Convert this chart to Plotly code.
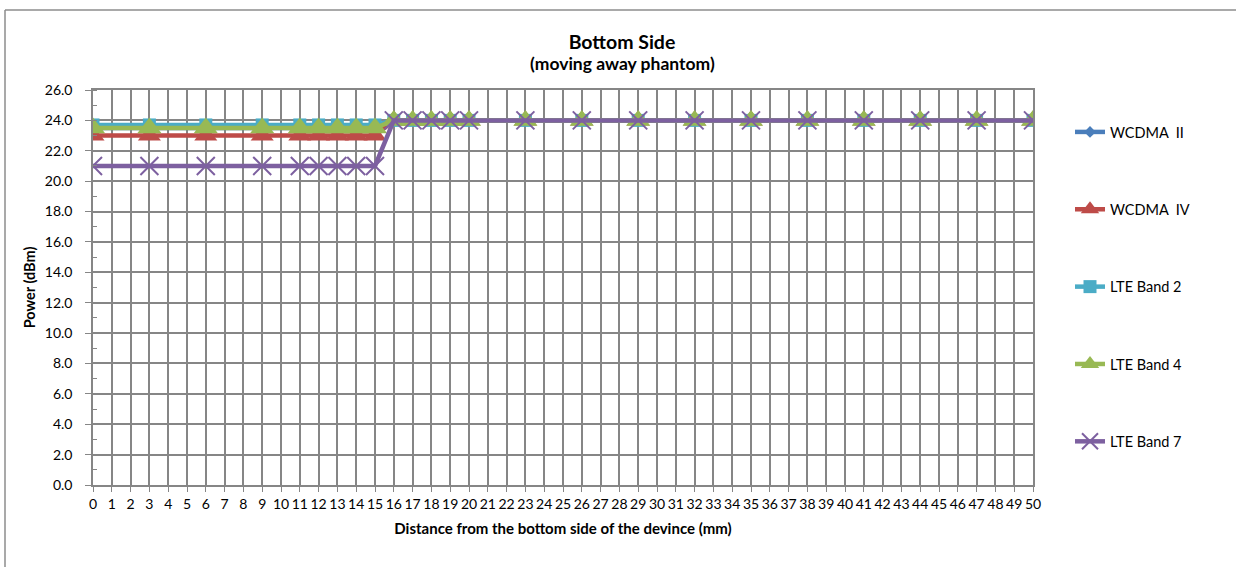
import plotly.graph_objects as go

distance = [0, 3, 6, 9, 11, 12, 13, 14, 15, 16, 17, 18, 19, 20, 23, 26, 29, 32, 35, 38, 41, 44, 47, 50]
wcdma_ii = [23.5] * 9 + [24.0] * 15
wcdma_iv = [23.0] * 9 + [24.0] * 15
lte_b2 = [23.7] * 9 + [24.0] * 15
lte_b4 = [23.5] * 9 + [24.0] * 15
lte_b7 = [21.0] * 9 + [24.0] * 15

series = [
    ("WCDMA  II", wcdma_ii, "#4A7EBB", "diamond", 9),
    ("WCDMA  IV", wcdma_iv, "#BE4B48", "triangle-up", 20),
    ("LTE Band 2", lte_b2, "#4BACC6", "square", 13),
    ("LTE Band 4", lte_b4, "#98B954", "triangle-up", 21),
    ("LTE Band 7", lte_b7, "#7D60A0", "x-thin", 18),
]

fig = go.Figure()
for i, (name, vals, color, sym, size) in enumerate(series):
    marker = dict(symbol=sym, size=size, color=color)
    if sym == "x-thin":
        marker["line"] = dict(color=color, width=2)
    fig.add_trace(go.Scatter(
        x=distance, y=vals, name=name, mode="lines+markers",
        line=dict(color=color, width=4.5), marker=marker,
        legendgroup=f"g{i}",
    ))

grid = "#868686"
L, T, W, H = 93, 90, 940, 395


def px(x):
    return (x - L) / W


def py(y):
    return (T + H - y) / H


fig.update_layout(
    width=1236, height=567,
    margin=dict(l=93, r=203, t=90, b=82),
    paper_bgcolor="white", plot_bgcolor="white",
    font=dict(family="Lato, Liberation Sans, sans-serif", size=14, color="black"),
    title=dict(
        text="<b>Bottom Side</b>",
        x=px(622), xref="paper", xanchor="center",
        y=1 - 42 / 567, yref="container", yanchor="middle",
        font=dict(family="Lato, Liberation Sans, sans-serif", size=19.5, color="black"),
    ),
    annotations=[dict(
        text="<b>(moving away phantom)</b>", x=px(622), y=py(63),
        xref="paper", yref="paper", xanchor="center", yanchor="middle",
        showarrow=False, font=dict(size=17.5, color="black"),
    )],
    xaxis=dict(
        range=[0, 50], dtick=1, tick0=0, showgrid=True, gridcolor=grid, gridwidth=1.5,
        showline=True, linecolor=grid, linewidth=1.5, mirror=True,
        ticks="outside", ticklen=5, tickcolor=grid, zeroline=False,
        tickfont=dict(size=14),
        title=dict(text="<b>Distance from the bottom side of the devince (mm)</b>",
                   font=dict(size=15), standoff=13),
    ),
    yaxis=dict(
        range=[0, 26], dtick=2, tick0=0, tickformat=".1f", showgrid=True,
        gridcolor=grid, gridwidth=1.5,
        showline=True, linecolor=grid, linewidth=1.5, mirror=True,
        ticks="outside", ticklen=6, tickcolor=grid, zeroline=False,
        ticklabelstandoff=10,
        minor=dict(dtick=1, ticks="inside", ticklen=4, tickcolor=grid, showgrid=False),
        tickfont=dict(size=14),
        title=dict(text="<b>Power (dBm)</b>", font=dict(size=14.5), standoff=6),
    ),
    legend=dict(
        x=px(1070), xanchor="left", y=py(116), yanchor="top",
        tracegroupgap=55.5, font=dict(size=14.5), bgcolor="rgba(0,0,0,0)",
    ),
    showlegend=True,
)

fig.add_shape(type="line", xref="paper", yref="paper",
              x0=px(5), x1=px(1236), y0=py(10), y1=py(10),
              line=dict(color="#8C8C8C", width=1.5))
fig.add_shape(type="line", xref="paper", yref="paper",
              x0=px(5), x1=px(5), y0=py(10), y1=py(567),
              line=dict(color="#8C8C8C", width=1.5))

fig.write_html("out.html", config={"displayModeBar": False},
               post_script="document.body.style.margin='0';document.body.style.overflow='hidden';")
